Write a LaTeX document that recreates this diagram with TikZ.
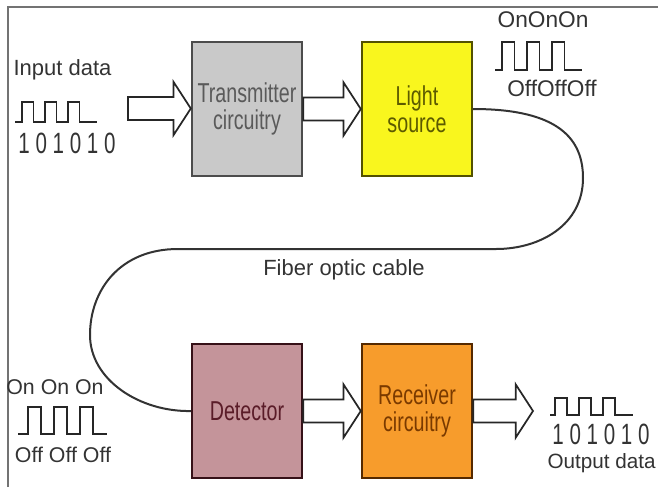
\documentclass[tikz,border=0pt]{standalone}
\usepackage{fontspec}
\setmainfont{Liberation Sans}
\newfontfamily\condfont[FakeStretch=0.72]{Liberation Sans}
\newfontfamily\bitsfont[FakeStretch=0.7]{Liberation Sans}
\usetikzlibrary{calc}

\definecolor{txfill}{HTML}{C9C9C9}
\definecolor{txtext}{HTML}{5A5A5A}
\definecolor{lsfill}{HTML}{F9F61E}
\definecolor{lstext}{HTML}{5C5A00}
\definecolor{detfill}{HTML}{C4949A}
\definecolor{dettext}{HTML}{5A1C28}
\definecolor{rcfill}{HTML}{F79C2C}
\definecolor{rctext}{HTML}{7A3A00}

% wide hollow arrow between two points
\newcommand{\hollowarrow}[2]{%
  \draw[hollow] let \p1=(#1), \p2=(#2) in
    (\x1,\y1+8.6pt) -- (\x2-13pt,\y1+8.6pt) -- (\x2-13pt,\y1+20pt) -- (\x2,\y1)
    -- (\x2-13pt,\y1-20pt) -- (\x2-13pt,\y1-8.6pt) -- (\x1,\y1-8.6pt) -- cycle;}

% three square pulses: start, height, width, lead, tail
\newcommand{\pulses}[5]{%
  \draw[wave] #1 -- ++(#4,0)
    -- ++(0,-#2) -- ++(#3,0) -- ++(0,#2) -- ++(#3,0)
    -- ++(0,-#2) -- ++(#3,0) -- ++(0,#2) -- ++(#3,0)
    -- ++(0,-#2) -- ++(#3,0) -- ++(0,#2) -- ++(#5,0);}

\begin{document}
\begin{tikzpicture}[x=0.75pt, y=-0.75pt, thick,
  block/.style={draw, line width=1.8pt, minimum width=82.5pt, minimum height=100.5pt,
    align=center, font=\condfont\fontsize{20.5}{20.5}\selectfont},
  hollow/.style={draw=black!85, fill=white, line width=1.3pt, line join=miter},
  wave/.style={draw=black!85, line width=1.4pt},
  lbl/.style={text=black!80, font=\fontsize{16.5}{18}\selectfont, inner sep=0pt},
  bits/.style={text=black!80, font=\bitsfont\fontsize{22}{22}\selectfont, inner sep=0pt},
  fiber/.style={draw=black!80, line width=1.5pt}]
  \useasboundingbox (0,0) rectangle (658,487);

  % frame
  \draw[black!55, line width=1.5pt] (8,487) -- (8,7) -- (658,7);

  % blocks
  \node[block, fill=txfill, draw=black!70, text=txtext] (tx) at (247,109) {Transmitter\\circuitry};
  \node[block, fill=lsfill, draw=lstext!90!black, text=lstext] (ls) at (417,109) {Light\\source};
  \node[block, fill=detfill, draw=dettext!60!black, text=dettext] (det) at (247,411) {Detector};
  \node[block, fill=rcfill, draw=rctext!70!black, text=rctext] (rc) at (417,411) {Receiver\\circuitry};

  % hollow arrows
  \coordinate (in) at (128,108.5);
  \coordinate (out) at (533,410);
  \hollowarrow{in}{tx.west}
  \hollowarrow{tx.east}{ls.west}
  \hollowarrow{det.east}{rc.west}
  \hollowarrow{rc.east}{out}

  % fiber optic cable
  \coordinate (bendR) at (583,178);
  \coordinate (runR) at (496,249);
  \coordinate (runL) at (178,249);
  \coordinate (bendL) at (90,335);
  \draw[fiber] (ls.east) .. controls (560,109) and (583,140) .. (bendR)
    .. controls (583,225) and (540,249) .. (runR) -- (runL)
    .. controls (120,249) and (90,290) .. (bendL)
    .. controls (90,380) and (140,412) .. (det.west);
  \node[lbl] (cable) at (344,270) {Fiber optic cable};

  % input data
  \node[lbl, anchor=west] (inlbl) at (13,70) {Input data};
  \pulses{(15,122)}{20}{11.5}{7}{17.5}
  \node[bits] (inbits) at (67,143) {1 0 1 0 1 0};

  % light pulses sent
  \node[lbl, font=\fontsize{17}{18}\selectfont] (onT) at (543,20) {OnOnOn};
  \pulses{(495,70)}{28}{12.5}{7}{17.5}
  \node[lbl, font=\fontsize{17}{18}\selectfont] (offT) at (552,88) {OffOffOff};

  % light pulses received
  \node[lbl, font=\fontsize{16}{18}\selectfont] (onB) at (55,387) {On On On};
  \pulses{(18,434)}{27}{13}{10}{14}
  \node[lbl, font=\fontsize{16}{18}\selectfont] (offB) at (63,455) {Off Off Off};

  % output data
  \pulses{(550,415)}{17}{12}{5}{18}
  \node[bits] (outbits) at (601,434) {1 0 1 0 1 0};
  \node[lbl, anchor=west, font=\fontsize{15.5}{18}\selectfont] (outlbl) at (547,463) {Output data};
\end{tikzpicture}
\end{document}
